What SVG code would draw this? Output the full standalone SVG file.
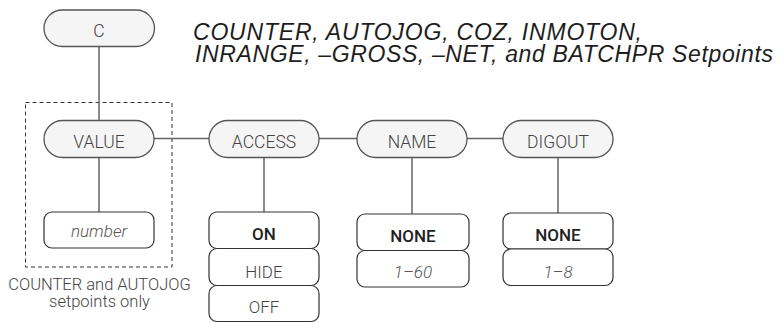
<svg xmlns="http://www.w3.org/2000/svg" width="781" height="323" viewBox="0 0 781 323">
<style>
.pill{fill:#f5f5f5;stroke:#555;stroke-width:1.3}
.box{fill:#fff;stroke:#333;stroke-width:1.2}
.conn line{stroke:#666;stroke-width:1.5}
.dash{fill:none;stroke:#333;stroke-width:1;stroke-dasharray:4 3}
text{font-family:Roboto,"Liberation Sans",sans-serif;text-anchor:middle}
.pt{font-size:17.5px;font-weight:300;fill:#444}
.bt{font-size:17px;font-weight:500;fill:#222}
.lt{font-size:17px;font-weight:300;fill:#444}
.it{font-size:17px;font-weight:300;font-style:italic;fill:#555}
.title{font-family:"Liberation Sans",Arial,sans-serif;font-style:italic;font-size:23px;fill:#1e1e1e;text-anchor:start}
.note{font-size:16.5px;font-weight:300;fill:#444}
</style>
<rect class="dash" x="25.5" y="102.5" width="146.5" height="164.5"/>
<g id="connectors" class="conn">
<line x1="99" y1="46" x2="99" y2="120.5"/>
<line x1="154" y1="138.5" x2="209" y2="138.5"/>
<line x1="319" y1="138.5" x2="357" y2="138.5"/>
<line x1="467" y1="138.5" x2="503" y2="138.5"/>
<line x1="99" y1="157.5" x2="99" y2="212"/>
<line x1="264" y1="157.5" x2="264" y2="212"/>
<line x1="412" y1="157.5" x2="412" y2="214"/>
<line x1="558" y1="157.5" x2="558" y2="213"/>
</g>
<g id="title">
<text class="title" x="193" y="39.5" textLength="449" lengthAdjust="spacing">COUNTER, AUTOJOG, COZ, INMOTON,</text>
<text class="title" x="195" y="62" textLength="578" lengthAdjust="spacing">INRANGE, –GROSS, –NET, and BATCHPR Setpoints</text>
</g>
<g id="node-c"><rect class="pill" x="44" y="10" width="110.5" height="36.5" rx="18.25"/><text class="pt" x="99" y="37.3">C</text></g>
<g id="node-value"><rect class="pill" x="44" y="120.5" width="110" height="37" rx="18.5"/><text class="pt" x="99" y="148.3">VALUE</text></g>
<g id="node-access"><rect class="pill" x="209" y="120.5" width="110" height="37" rx="18.5"/><text class="pt" x="264" y="148.3">ACCESS</text></g>
<g id="node-name"><rect class="pill" x="357" y="120.5" width="110" height="37" rx="18.5"/><text class="pt" x="412" y="148.3">NAME</text></g>
<g id="node-digout"><rect class="pill" x="503" y="120.5" width="110" height="37" rx="18.5"/><text class="pt" x="558" y="148.3">DIGOUT</text></g>
<g id="node-number"><rect class="box" x="44" y="212" width="110" height="36" rx="8"/><text class="it" x="99" y="236.5">number</text></g>
<g id="node-access-on"><rect class="box" x="209" y="212" width="110" height="36.5" rx="8"/><text class="bt" x="264" y="239.5">ON</text></g>
<g id="node-access-hide"><rect class="box" x="209" y="248.5" width="110" height="37" rx="8"/><text class="lt" x="264" y="277.5">HIDE</text></g>
<g id="node-access-off"><rect class="box" x="209" y="285.5" width="110" height="36" rx="8"/><text class="lt" x="264" y="313">OFF</text></g>
<g id="node-name-none"><rect class="box" x="357" y="214" width="112" height="36.5" rx="8"/><text class="bt" x="413" y="241.5">NONE</text></g>
<g id="node-name-range"><rect class="box" x="357" y="250.5" width="112" height="36.5" rx="8"/><text class="it" x="413" y="278.3">1–60</text></g>
<g id="node-digout-none"><rect class="box" x="503" y="213" width="110" height="36" rx="8"/><text class="bt" x="558" y="241">NONE</text></g>
<g id="node-digout-range"><rect class="box" x="503" y="249" width="110" height="36.5" rx="8"/><text class="it" x="558" y="277.7">1–8</text></g>
<g id="note">
<text class="note" x="99.5" y="289.5">COUNTER and AUTOJOG</text>
<text class="note" x="99.5" y="306.5">setpoints only</text>
</g>
</svg>
